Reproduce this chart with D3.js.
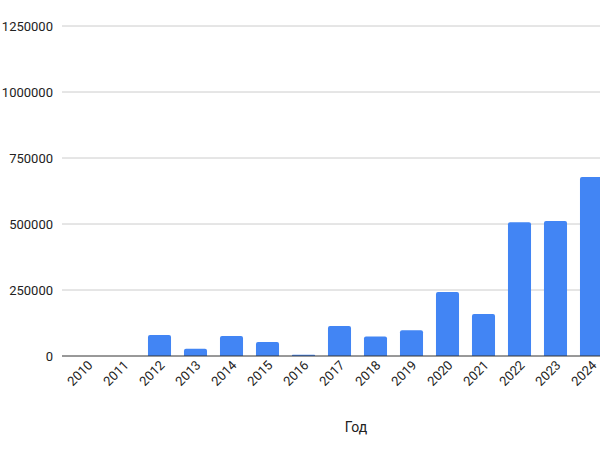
<!DOCTYPE html>
<html><head><meta charset="utf-8">
<script src="https://cdn.jsdelivr.net/npm/d3@7"></script>
<style>body{margin:0;background:#fff}text{font-family:Roboto,Arial,sans-serif;fill:#222}</style>
</head><body><svg id="c" width="600" height="450"></svg>
<script>
var years = ['2010','2011','2012','2013','2014','2015','2016','2017','2018','2019','2020','2021','2022','2023','2024'];
var values = [0, 0, 80000, 27000, 76000, 53000, 5000, 114000, 74000, 98000, 242000, 159000, 507000, 511000, 678000];
var yTicks = [0, 250000, 500000, 750000, 1000000, 1250000];

var svg = d3.select('#c');
var x = d3.scaleBand().domain(years).range([69.5, 609.5]).paddingInner(0.36).paddingOuter(0.18);
var y = d3.scaleLinear().domain([0, 1250000]).range([356, 26]);

svg.selectAll('line.grid').data(yTicks.slice(1)).enter().append('line')
	.attr('x1', 62).attr('x2', 600)
	.attr('y1', function(d){ return y(d); }).attr('y2', function(d){ return y(d); })
	.attr('stroke', '#cccccc').attr('stroke-width', 1);

svg.selectAll('text.yl').data(yTicks).enter().append('text')
	.attr('x', 53).attr('y', function(d){ return y(d) + 5; })
	.attr('text-anchor', 'end').attr('font-size', 13)
	.text(function(d){ return d; });

svg.selectAll('path.bar').data(values).enter().append('path')
	.attr('fill', '#4285f4')
	.attr('d', function(d, i){
		var x0 = x(years[i]), w = x.bandwidth(), y0 = y(d), h = 356 - y0, r = Math.min(2, h / 2);
		if (h <= 0) return '';
		return 'M' + x0 + ',356V' + (y0 + r) + 'Q' + x0 + ',' + y0 + ' ' + (x0 + r) + ',' + y0 +
			'H' + (x0 + w - r) + 'Q' + (x0 + w) + ',' + y0 + ' ' + (x0 + w) + ',' + (y0 + r) + 'V356Z';
	});

svg.append('line').attr('x1', 62).attr('x2', 600).attr('y1', 356).attr('y2', 356)
	.attr('stroke', '#333').attr('stroke-width', 1);

svg.selectAll('text.xl').data(years).enter().append('text')
	.attr('font-size', 13).attr('text-anchor', 'end')
	.attr('transform', function(d){ return 'translate(' + (x(d) + x.bandwidth() / 2 + 6) + ',366) rotate(-45)'; })
	.text(function(d){ return d; });

svg.append('text').attr('x', 356).attr('y', 432).attr('text-anchor', 'middle')
	.attr('font-size', 14).text('Год');
</script></body></html>
